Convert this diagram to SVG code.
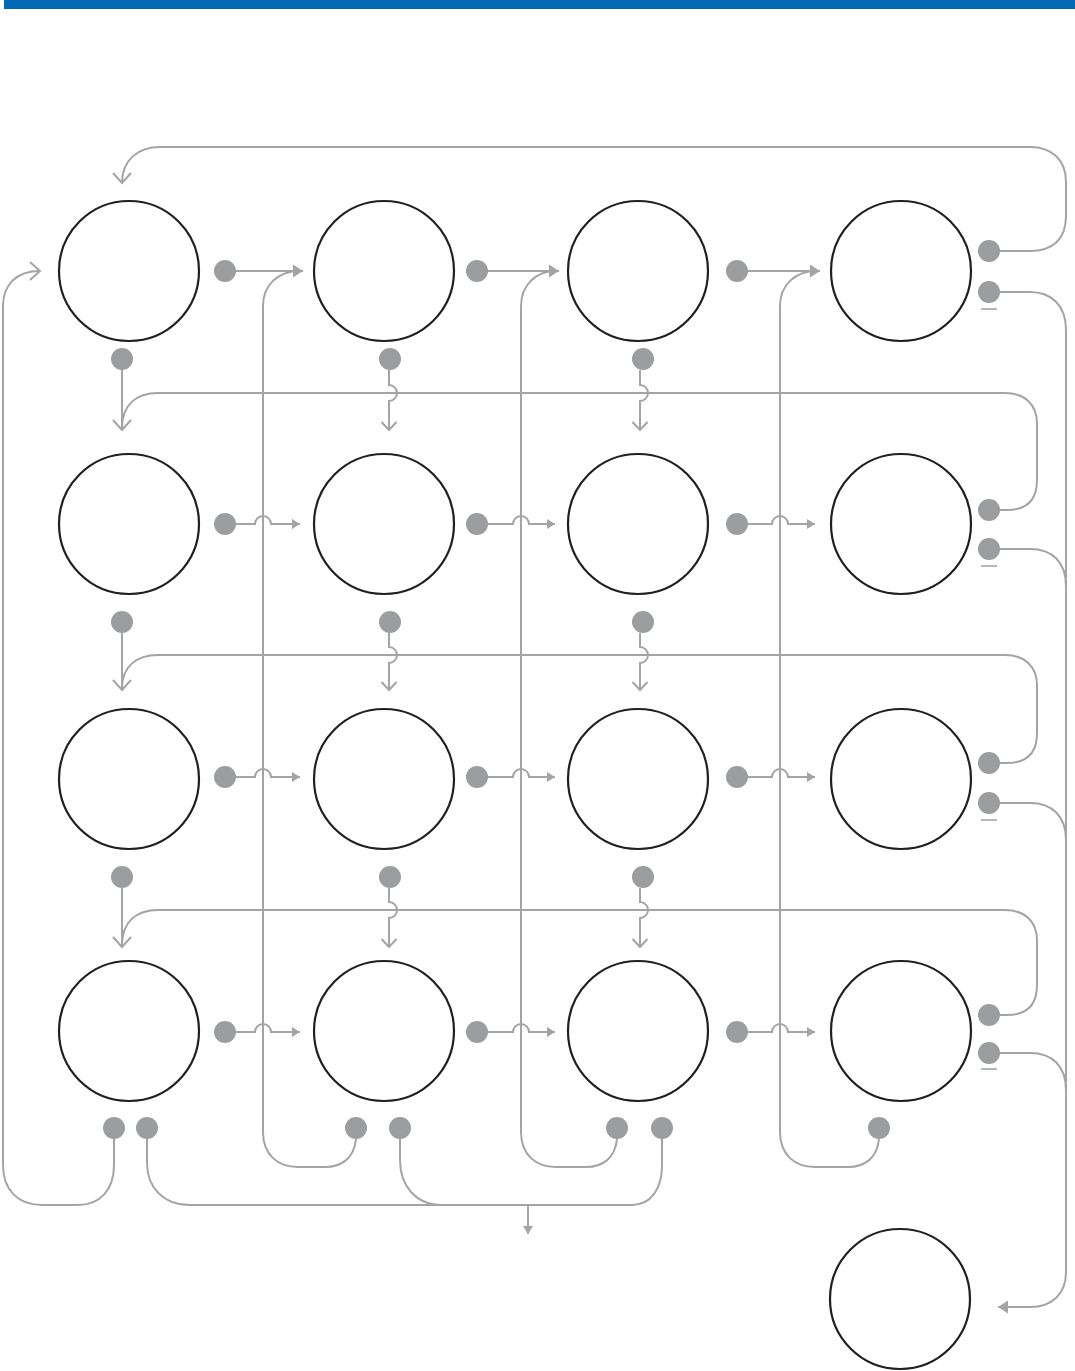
<svg xmlns="http://www.w3.org/2000/svg" width="1075" height="1371" viewBox="0 0 1075 1371">
<style>
.node{fill:#fff;stroke:#231f20;stroke-width:2.2}
.dot{fill:#9c9d9f}
.ln{fill:none;stroke:#a3a4a6;stroke-width:2}
.ul{stroke:#a3a4a6;stroke-width:1.6}
</style>
<defs>
<marker id="tri" viewBox="-12 -8 14 16" refX="0" refY="0" markerWidth="14" markerHeight="16" markerUnits="userSpaceOnUse" orient="auto"><path d="M0 0 L-10 -6.5 L-10 6.5 Z" fill="#a3a4a6"/></marker>
<marker id="triS" viewBox="-10 -6 12 12" refX="0" refY="0" markerWidth="12" markerHeight="12" markerUnits="userSpaceOnUse" orient="auto"><path d="M0 0 L-8 -5 L-8 5 Z" fill="#a3a4a6"/></marker>
<marker id="chev" viewBox="-12 -11 14 22" refX="0" refY="0" markerWidth="14" markerHeight="22" markerUnits="userSpaceOnUse" orient="auto"><path d="M-10 -9 L0 0 L-10 9" fill="none" stroke="#a3a4a6" stroke-width="2"/></marker>
<marker id="chevS" viewBox="-10 -9 12 18" refX="0" refY="0" markerWidth="12" markerHeight="18" markerUnits="userSpaceOnUse" orient="auto"><path d="M-8 -7.5 L0 0 L-8 7.5" fill="none" stroke="#a3a4a6" stroke-width="2"/></marker>
</defs>
<rect x="4" y="0" width="1071" height="9" fill="#0068b4"/>
<g id="connectors">
<!-- top loop -->
<path class="ln" d="M1000 251 H1030 C1052 251 1066 240 1066 216 V182 C1066 160 1052 147 1030 147 H160 C138 147 122 160 122 183" marker-end="url(#chev)"/>
<!-- right output trunk -->
<path class="ln" d="M1000 292 H1030 C1052 292 1066 306 1066 330 V1272 C1066 1294 1052 1307 1030 1307 H998" marker-end="url(#tri)"/>
<path class="ln" d="M1000 549 H1030 C1052 549 1066 562 1066 586"/>
<path class="ln" d="M1000 803 H1030 C1052 803 1066 816 1066 840"/>
<path class="ln" d="M1000 1053 H1030 C1052 1053 1066 1066 1066 1090"/>
<!-- row feedback loops -->
<path class="ln" d="M1000 510 H1007 C1027 510 1037 500 1037 480 V423 C1037 405 1025 393 1005 393 H158 C136 393 122 405 122 428"/>
<path class="ln" d="M1000 763 H1007 C1027 763 1037 753 1037 733 V685 C1037 667 1025 655 1005 655 H158 C136 655 122 667 122 688"/>
<path class="ln" d="M1000 1015 H1007 C1027 1015 1037 1005 1037 985 V940 C1037 922 1025 910 1005 910 H158 C136 910 122 922 122 945"/>
<!-- col1 vertical -->
<path class="ln" d="M122 370 V430" marker-end="url(#chev)"/>
<path class="ln" d="M122 633 V690" marker-end="url(#chev)"/>
<path class="ln" d="M122 888 V947" marker-end="url(#chev)"/>
<!-- col2/col3 vertical with hops -->
<path class="ln" d="M389 370 V385 A8 8 0 0 1 389 401 V430" marker-end="url(#chevS)"/>
<path class="ln" d="M640 370 V385 A8 8 0 0 1 640 401 V430" marker-end="url(#chevS)"/>
<path class="ln" d="M389 633 V647 A8 8 0 0 1 389 663 V690" marker-end="url(#chevS)"/>
<path class="ln" d="M640 633 V647 A8 8 0 0 1 640 663 V690" marker-end="url(#chevS)"/>
<path class="ln" d="M389 888 V902 A8 8 0 0 1 389 918 V947" marker-end="url(#chevS)"/>
<path class="ln" d="M640 888 V902 A8 8 0 0 1 640 918 V947" marker-end="url(#chevS)"/>
<!-- row 1 horizontals -->
<path class="ln" d="M225 271 H303" marker-end="url(#tri)"/>
<path class="ln" d="M477 271 H559" marker-end="url(#tri)"/>
<path class="ln" d="M737 271 H820" marker-end="url(#tri)"/>
<!-- rows 2-4 horizontals with hops -->
<path class="ln" d="M225 524 H255 A8 8 0 0 1 271 524 H300" marker-end="url(#triS)"/>
<path class="ln" d="M477 524 H513 A8 8 0 0 1 529 524 H555" marker-end="url(#triS)"/>
<path class="ln" d="M737 524 H772 A8 8 0 0 1 788 524 H815" marker-end="url(#triS)"/>
<path class="ln" d="M225 777 H255 A8 8 0 0 1 271 777 H300" marker-end="url(#triS)"/>
<path class="ln" d="M477 777 H513 A8 8 0 0 1 529 777 H555" marker-end="url(#triS)"/>
<path class="ln" d="M737 777 H772 A8 8 0 0 1 788 777 H815" marker-end="url(#triS)"/>
<path class="ln" d="M225 1032 H255 A8 8 0 0 1 271 1032 H300" marker-end="url(#triS)"/>
<path class="ln" d="M477 1032 H513 A8 8 0 0 1 529 1032 H555" marker-end="url(#triS)"/>
<path class="ln" d="M737 1032 H772 A8 8 0 0 1 788 1032 H815" marker-end="url(#triS)"/>
<!-- bottom feedback verticals -->
<path class="ln" d="M356 1139 C354 1158 342 1167 325 1167 H298 C278 1167 263 1155 263 1132 V306 C263 285 278 271 300 271"/>
<path class="ln" d="M617 1139 C615 1158 603 1167 586 1167 H556 C536 1167 521 1155 521 1132 V306 C521 285 536 271 556 271"/>
<path class="ln" d="M879 1139 C877 1158 865 1167 848 1167 H815 C795 1167 780 1155 780 1132 V306 C780 285 795 271 817 271"/>
<!-- left loop -->
<path class="ln" d="M114 1139 V1165 C114 1190 100 1205 78 1205 H42 C18 1205 3 1190 3 1165 V306 C3 285 16 271 40 271" marker-end="url(#chev)"/>
<!-- bottom output -->
<path class="ln" d="M147 1139 V1163 C147 1188 164 1205 190 1205 H632 C650 1205 662 1190 662 1165 V1139"/>
<path class="ln" d="M400 1139 V1160 C400 1186 416 1205 442 1205"/>
<path class="ln" d="M528 1205 V1234" marker-end="url(#triS)"/>
</g>
<g id="n11"><circle class="node" cx="129" cy="271" r="70"/></g>
<g id="n12"><circle class="node" cx="384" cy="271" r="70"/></g>
<g id="n13"><circle class="node" cx="638" cy="271" r="70"/></g>
<g id="n14"><circle class="node" cx="901" cy="271" r="70"/></g>
<g id="n21"><circle class="node" cx="129" cy="524" r="70"/></g>
<g id="n22"><circle class="node" cx="384" cy="524" r="70"/></g>
<g id="n23"><circle class="node" cx="638" cy="524" r="70"/></g>
<g id="n24"><circle class="node" cx="901" cy="524" r="70"/></g>
<g id="n31"><circle class="node" cx="129" cy="779" r="70"/></g>
<g id="n32"><circle class="node" cx="384" cy="779" r="70"/></g>
<g id="n33"><circle class="node" cx="638" cy="779" r="70"/></g>
<g id="n34"><circle class="node" cx="901" cy="779" r="70"/></g>
<g id="n41"><circle class="node" cx="129" cy="1031" r="70"/></g>
<g id="n42"><circle class="node" cx="384" cy="1031" r="70"/></g>
<g id="n43"><circle class="node" cx="638" cy="1031" r="70"/></g>
<g id="n44"><circle class="node" cx="901" cy="1031" r="70"/></g>
<g id="nout"><circle class="node" cx="900" cy="1299" r="70"/></g>
<g id="ports">
<circle class="dot" cx="225" cy="271" r="11"/><circle class="dot" cx="477" cy="271" r="11"/><circle class="dot" cx="737" cy="271" r="11"/>
<circle class="dot" cx="225" cy="524" r="11"/><circle class="dot" cx="477" cy="524" r="11"/><circle class="dot" cx="737" cy="524" r="11"/>
<circle class="dot" cx="225" cy="777" r="11"/><circle class="dot" cx="477" cy="777" r="11"/><circle class="dot" cx="737" cy="777" r="11"/>
<circle class="dot" cx="225" cy="1032" r="11"/><circle class="dot" cx="477" cy="1032" r="11"/><circle class="dot" cx="737" cy="1032" r="11"/>
<circle class="dot" cx="122" cy="359" r="11"/><circle class="dot" cx="390" cy="359" r="11"/><circle class="dot" cx="643" cy="359" r="11"/>
<circle class="dot" cx="122" cy="622" r="11"/><circle class="dot" cx="390" cy="622" r="11"/><circle class="dot" cx="643" cy="622" r="11"/>
<circle class="dot" cx="122" cy="877" r="11"/><circle class="dot" cx="390" cy="877" r="11"/><circle class="dot" cx="643" cy="877" r="11"/>
<circle class="dot" cx="989" cy="251" r="11"/><circle class="dot" cx="989" cy="292" r="11"/>
<circle class="dot" cx="989" cy="510" r="11"/><circle class="dot" cx="989" cy="549" r="11"/>
<circle class="dot" cx="989" cy="763" r="11"/><circle class="dot" cx="989" cy="803" r="11"/>
<circle class="dot" cx="989" cy="1015" r="11"/><circle class="dot" cx="989" cy="1053" r="11"/>
<line class="ul" x1="981" y1="309" x2="997" y2="309"/>
<line class="ul" x1="981" y1="566" x2="997" y2="566"/>
<line class="ul" x1="981" y1="820" x2="997" y2="820"/>
<line class="ul" x1="981" y1="1069" x2="997" y2="1069"/>
<circle class="dot" cx="114" cy="1128" r="11"/><circle class="dot" cx="147" cy="1128" r="11"/>
<circle class="dot" cx="356" cy="1128" r="11"/><circle class="dot" cx="400" cy="1128" r="11"/>
<circle class="dot" cx="617" cy="1128" r="11"/><circle class="dot" cx="662" cy="1128" r="11"/>
<circle class="dot" cx="879" cy="1128" r="11"/>
</g>
</svg>
